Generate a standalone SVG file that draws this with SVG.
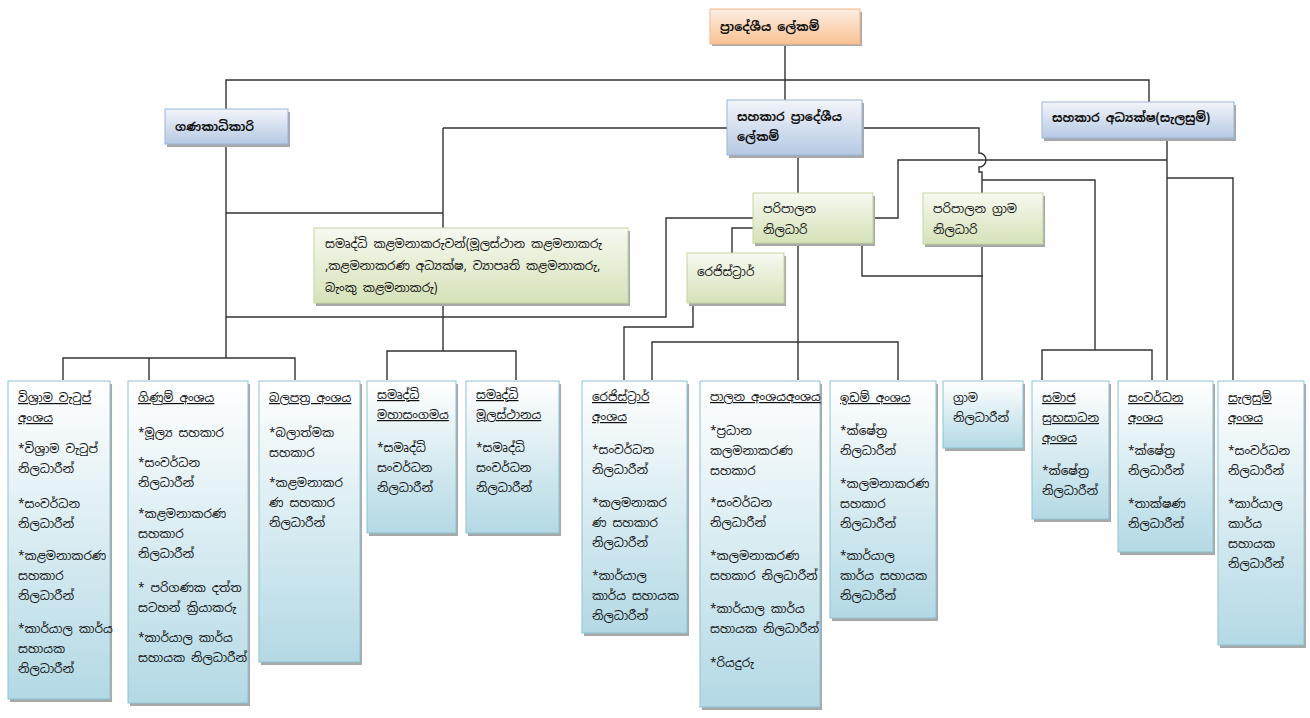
<svg xmlns="http://www.w3.org/2000/svg" width="1310" height="718" viewBox="0 0 1310 718">
<defs>
<linearGradient id="gO" x1="0" y1="0" x2="0" y2="1"><stop offset="0" stop-color="#fdeee4"/><stop offset="1" stop-color="#f9c293"/></linearGradient>
<linearGradient id="gB" x1="0" y1="0" x2="0" y2="1"><stop offset="0" stop-color="#f2f5fa"/><stop offset="1" stop-color="#b6c9e3"/></linearGradient>
<linearGradient id="gG" x1="0" y1="0" x2="0" y2="1"><stop offset="0" stop-color="#f7f9f1"/><stop offset="1" stop-color="#d5e2b8"/></linearGradient>
<linearGradient id="gC" x1="0" y1="0" x2="0" y2="1"><stop offset="0" stop-color="#ffffff"/><stop offset="1" stop-color="#b3d9e5"/></linearGradient>
</defs>
<style>
text{font-family:"Noto Sans Sinhala","Noto Sans","DejaVu Sans",sans-serif;font-size:12px;fill:#111}
.u{text-decoration:underline}
.sh{fill:#a8a8a8}
.o{fill:url(#gO);stroke:#f2b88a}
.b{fill:url(#gB);stroke:#9ab5d8}
.g{fill:url(#gG);stroke:#c5d6a2}
.c{fill:url(#gC);stroke:#8fc3d1}
#connectors path{fill:none;stroke:#333;stroke-width:1.4}
</style>
<g id="connectors">
<path d="M785,44 V100"/>
<path d="M226,110 V80 H1149 V102"/>
<path d="M226,144 V358"/>
<path d="M63,380 V358 H295 V380 M149,358 V380"/>
<path d="M226,213 H443 V228 M443,128 V228"/>
<path d="M443,128 H727"/>
<path d="M443,303 V351 M387,380 V351 H516 V380"/>
<path d="M226,317 H666 V218 H753"/>
<path d="M753,228 H732 V253"/>
<path d="M693,303 V327 H624 V380"/>
<path d="M652,380 V342 H898 V380"/>
<path d="M798,155 V193 M798,243 V380"/>
<path d="M862,243 V276 H983"/>
<path d="M862,128 H979 V153 A7,7 0 0 1 979,167 V172 H982 V380"/>
<path d="M982,180 H1095 V350 M1042,380 V350 H1152 V380"/>
<path d="M873,218 H898 V160 H1167 M1167,138 V380"/>
<path d="M1167,178 H1233 V380"/>
</g>
<g id="n_top"><rect x="712" y="12" width="150" height="34" class="sh"/><rect x="710" y="9" width="150" height="35" class="o"/><text x="720" y="31" font-weight="bold">ප්‍රාදේශීය ලේකම්</text></g>
<g id="n_gan"><rect x="167" y="112" width="123" height="35" class="sh"/><rect x="165" y="109" width="123" height="35" class="b"/><text x="175" y="131" font-weight="bold">ගණකාධිකාරි</text></g>
<g id="n_spl"><rect x="729" y="103" width="135" height="55" class="sh"/><rect x="727" y="100" width="135" height="55" class="b"/><text x="737" y="121" font-weight="bold">සහකාර ප්‍රාදේශීය</text><text x="737" y="141" font-weight="bold">ලේකම්</text></g>
<g id="n_adh"><rect x="1044" y="105" width="192" height="36" class="sh"/><rect x="1042" y="102" width="192" height="36" class="b"/><text x="1052" y="122" font-weight="bold">සහකාර අධ්‍යක්ෂ(සැලසුම්)</text></g>
<g id="n_par"><rect x="755" y="196" width="120" height="50" class="sh"/><rect x="753" y="193" width="120" height="50" class="g"/><text x="763" y="213">පරිපාලන</text><text x="763" y="234">නිලධාරි</text></g>
<g id="n_pgr"><rect x="925" y="196" width="120" height="51" class="sh"/><rect x="923" y="193" width="120" height="51" class="g"/><text x="933" y="213">පරිපාලන ග්‍රාම</text><text x="933" y="234">නිලධාරි</text></g>
<g id="n_sam"><rect x="316" y="231" width="314" height="75" class="sh"/><rect x="314" y="228" width="314" height="75" class="g"/><text x="325" y="248">සමෘද්ධි කළමනාකරුවන්(මූලස්ථාන කළමනාකරු</text><text x="325" y="270">,කළමනාකරණ අධ්‍යක්ෂ, ව්‍යාපෘති කළමනාකරු,</text><text x="325" y="292">බැංකු කළමනාකරු)</text></g>
<g id="n_reg"><rect x="689" y="256" width="97" height="50" class="sh"/><rect x="687" y="253" width="97" height="50" class="g"/><text x="697" y="276">රෙජිස්ට්‍රාර්</text></g>

<g id="b_vis"><rect x="10" y="384" width="102" height="318" class="sh"/><rect x="8" y="381" width="102" height="318" class="c"/>
<text x="18" y="402" class="u">විශ්‍රාම වැටුප්</text><text x="18" y="422" class="u">අංශය</text>
<text x="18" y="453">*විශ්‍රාම වැටුප්</text><text x="18" y="473">නිලධාරීන්</text>
<text x="18" y="508">*සංවර්ධන</text><text x="18" y="528">නිලධාරීන්</text>
<text x="18" y="560">*කළමනාකරණ</text><text x="18" y="580">සහකාර</text><text x="18" y="600">නිලධාරීන්</text>
<text x="18" y="633">*කාර්යාල කාර්ය</text><text x="18" y="653">සහායක</text><text x="18" y="673">නිලධාරීන්</text></g>
<g id="b_gin"><rect x="130" y="384" width="120" height="322" class="sh"/><rect x="128" y="381" width="120" height="322" class="c"/>
<text x="138" y="402" class="u">ගිණුම් අංශය</text>
<text x="138" y="437">*මූල්‍ය සහකාර</text>
<text x="138" y="467">*සංවර්ධන</text><text x="138" y="487">නිලධාරීන්</text>
<text x="138" y="518">*කළමනාකරණ</text><text x="138" y="538">සහකාර</text><text x="138" y="558">නිලධාරීන්</text>
<text x="138" y="592">* පරිගණක දත්ත</text><text x="138" y="612">සටහන් ක්‍රියාකරු</text>
<text x="138" y="642">*කාර්යාල කාර්ය</text><text x="138" y="662">සහායක නිලධාරීන්</text></g>
<g id="b_bal"><rect x="261" y="384" width="101" height="281" class="sh"/><rect x="259" y="381" width="101" height="281" class="c"/>
<text x="269" y="402" class="u">බලපත්‍ර අංශය</text>
<text x="269" y="437">*බලාත්මක</text><text x="269" y="457">සහකාර</text>
<text x="269" y="487">*කළමනාකර</text><text x="269" y="507">ණ සහකාර</text><text x="269" y="527">නිලධාරීන්</text></g>
<g id="b_mah"><rect x="369" y="384" width="89" height="152" class="sh"/><rect x="367" y="381" width="89" height="152" class="c"/>
<text x="377" y="399" class="u">සමෘද්ධි</text><text x="377" y="419" class="u">මහාසංගමය</text>
<text x="377" y="452">*සමෘද්ධි</text><text x="377" y="472">සංවර්ධන</text><text x="377" y="492">නිලධාරීන්</text></g>
<g id="b_mul"><rect x="468" y="384" width="93" height="152" class="sh"/><rect x="466" y="381" width="93" height="152" class="c"/>
<text x="476" y="399" class="u">සමෘද්ධි</text><text x="476" y="419" class="u">මූලස්ථානය</text>
<text x="476" y="452">*සමෘද්ධි</text><text x="476" y="472">සංවර්ධන</text><text x="476" y="492">නිලධාරීන්</text></g>
<g id="b_reg"><rect x="584" y="384" width="105" height="252" class="sh"/><rect x="582" y="381" width="105" height="252" class="c"/>
<text x="592" y="401" class="u">රෙජිස්ට්‍රාර්</text><text x="592" y="421" class="u">අංශය</text>
<text x="592" y="454">*සංවර්ධන</text><text x="592" y="474">නිලධාරීන්</text>
<text x="592" y="507">*කලමනාකර</text><text x="592" y="527">ණ සහකාර</text><text x="592" y="547">නිලධාරීන්</text>
<text x="592" y="580">*කාර්යාල</text><text x="592" y="600">කාර්ය සහායක</text><text x="592" y="620">නිලධාරීන්</text></g>
<g id="b_pal"><rect x="702" y="384" width="120" height="326" class="sh"/><rect x="700" y="381" width="120" height="326" class="c"/>
<text x="710" y="401" class="u">පාලන අංශයඅංශය</text>
<text x="710" y="435">*ප්‍රධාන</text><text x="710" y="455">කලමනාකරණ</text><text x="710" y="475">සහකාර</text>
<text x="710" y="507">*සංවර්ධන</text><text x="710" y="527">නිලධාරීන්</text>
<text x="710" y="560">*කලමනාකරණ</text><text x="710" y="580">සහකාර නිලධාරීන්</text>
<text x="710" y="613">*කාර්යාල කාර්ය</text><text x="710" y="633">සහායක නිලධාරීන්</text>
<text x="710" y="667">*රියදුරු</text></g>
<g id="b_ida"><rect x="832" y="384" width="106" height="237" class="sh"/><rect x="830" y="381" width="106" height="237" class="c"/>
<text x="840" y="402" class="u">ඉඩම් අංශය</text>
<text x="840" y="435">*ක්ෂේත්‍ර</text><text x="840" y="455">නිලධාරීන්</text>
<text x="840" y="488">*කලමනාකරණ</text><text x="840" y="508">සහකාර</text><text x="840" y="528">නිලධාරීන්</text>
<text x="840" y="560">*කාර්යාල</text><text x="840" y="580">කාර්ය සහායක</text><text x="840" y="600">නිලධාරීන්</text></g>
<g id="b_gra"><rect x="945" y="384" width="80" height="67" class="sh"/><rect x="943" y="381" width="80" height="67" class="c"/>
<text x="953" y="402">ග්‍රාම</text><text x="953" y="422">නිලධාරීන්</text></g>
<g id="b_smj"><rect x="1034" y="384" width="77" height="138" class="sh"/><rect x="1032" y="381" width="77" height="138" class="c"/>
<text x="1042" y="402" class="u">සමාජ</text><text x="1042" y="422" class="u">සුභසාධන</text><text x="1042" y="442" class="u">අංශය</text>
<text x="1042" y="475">*ක්ෂේත්‍ර</text><text x="1042" y="495">නිලධාරීන්</text></g>
<g id="b_snv"><rect x="1120" y="384" width="95" height="171" class="sh"/><rect x="1118" y="381" width="95" height="171" class="c"/>
<text x="1128" y="402" class="u">සංවර්ධන</text><text x="1128" y="422" class="u">අංශය</text>
<text x="1128" y="455">*ක්ෂේත්‍ර</text><text x="1128" y="475">නිලධාරීන්</text>
<text x="1128" y="508">*තාක්ෂණ</text><text x="1128" y="528">නිලධාරීන්</text></g>
<g id="b_sal"><rect x="1220" y="384" width="86" height="264" class="sh"/><rect x="1218" y="381" width="86" height="264" class="c"/>
<text x="1228" y="402" class="u">සැලසුම්</text><text x="1228" y="422" class="u">අංශය</text>
<text x="1228" y="455">*සංවර්ධන</text><text x="1228" y="475">නිලධාරීන්</text>
<text x="1228" y="508">*කාර්යාල</text><text x="1228" y="528">කාර්ය</text><text x="1228" y="548">සහායක</text><text x="1228" y="568">නිලධාරීන්</text></g>
</svg>
